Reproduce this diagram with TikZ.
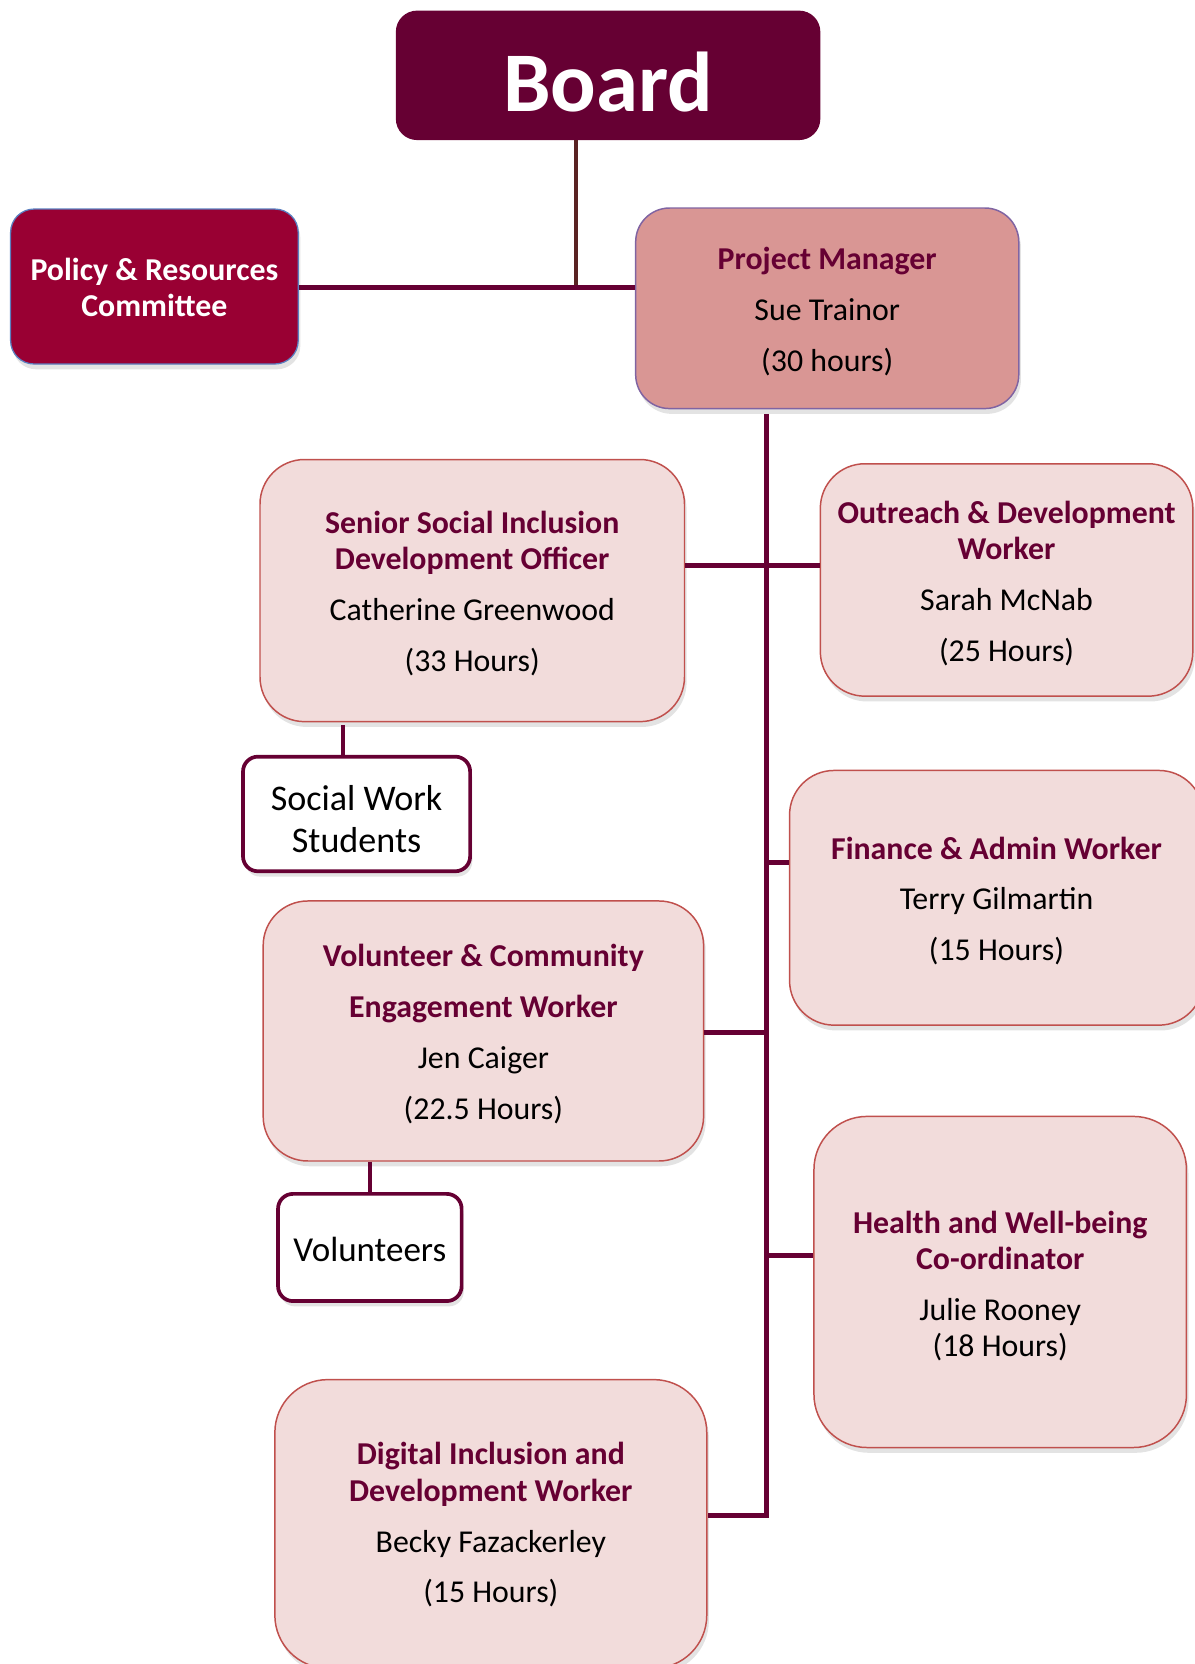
\documentclass[tikz,border=0pt]{standalone}
\usepackage{fontspec}
\setmainfont{Carlito}
\usetikzlibrary{shadows}
\definecolor{boardc}{HTML}{660033}
\definecolor{policyc}{HTML}{990033}
\definecolor{policyline}{HTML}{5B7FC0}
\definecolor{pmfill}{HTML}{D99694}
\definecolor{pmline}{HTML}{8064A2}
\definecolor{boxfill}{HTML}{F2DCDB}
\definecolor{boxline}{HTML}{C0504D}
\definecolor{titlec}{HTML}{660033}
\definecolor{conn}{HTML}{660033}
\definecolor{boardconn}{HTML}{5A2323}
\newcommand\ttl[1]{\textcolor{titlec}{\bfseries #1}}
\tikzset{
  shad/.style={drop shadow={opacity=0.22, shadow xshift=2pt, shadow yshift=-5pt}},
  staff/.style={draw=boxline, fill=boxfill, line width=1.4pt, rounded corners=42pt,
    inner sep=0pt, shad},
  helper/.style={draw=conn, fill=white, line width=3.5pt, rounded corners=14pt,
    inner sep=0pt, shad},
  txt/.style={align=center, inner sep=0pt, font=\fontsize{30}{34}\selectfont},
  htxt/.style={align=center, inner sep=0pt, font=\fontsize{34}{39}\selectfont},
  link/.style={draw=conn, line width=5pt},
}
\begin{document}
\begin{tikzpicture}[x=1pt,y=-1pt]
\useasboundingbox (0,0) rectangle (1126,1568);
% boxes
\node[fill=boardc, rounded corners=20pt, minimum width=400pt, minimum height=122pt, inner sep=0pt] (board) at (573,71) {};
\node[text=white, font=\fontsize{80}{90}\selectfont\bfseries, inner sep=0pt] (boardtxt) at ([yshift=-6pt]board.center) {Board};
\node[fill=policyc, draw=policyline, line width=1.2pt, rounded corners=22pt, minimum width=271pt,
  minimum height=146pt, inner sep=0pt, shad] (policy) at (145.5,270) {};
\node[txt, text=white, font=\fontsize{30}{34}\selectfont\bfseries] (policytxt) at ([yshift=-1pt]policy.center) {Policy \& Resources\\Committee};
\node[staff, fill=pmfill, draw=pmline, rounded corners=32pt, minimum width=361pt, minimum height=189pt]
  (pm) at (779.5,290.5) {};
\node[txt] (pmtxt) at ([yshift=-3pt]pm.center) {\ttl{Project Manager}\\[14pt]Sue Trainor\\[14pt](30 hours)};
\node[staff, minimum width=400pt, minimum height=247pt] (senior) at (445,556.5) {};
\node[txt] (seniortxt) at ([yshift=-3pt]senior.center)
  {\ttl{Senior Social Inclusion}\\\ttl{Development Officer}\\[14pt]Catherine Greenwood\\[14pt](33 Hours)};
\node[staff, minimum width=351pt, minimum height=219pt] (outreach) at (948.5,546.5) {};
\node[txt] (outreachtxt) at ([yshift=-3pt]outreach.center)
  {\ttl{Outreach \& Development}\\\ttl{Worker}\\[14pt]Sarah McNab\\[14pt](25 Hours)};
\node[helper, minimum width=214pt, minimum height=108pt] (sws) at (336,767) {};
\node[htxt] (swstxt) at ([yshift=-5pt]sws.center) {Social Work\\Students};
\node[staff, minimum width=390pt, minimum height=240pt] (finance) at (939,846) {};
\node[txt] (financetxt) at ([yshift=-3pt]finance.center)
  {\ttl{Finance \& Admin Worker}\\[14pt]Terry Gilmartin\\[14pt](15 Hours)};
\node[staff, minimum width=415pt, minimum height=245pt] (volunteer) at (455.5,971.5) {};
\node[txt] (volunteertxt) at ([yshift=-3pt]volunteer.center)
  {\ttl{Volunteer \& Community}\\[14pt]\ttl{Engagement Worker}\\[14pt]Jen Caiger\\[14pt](22.5 Hours)};
\node[helper, minimum width=173pt, minimum height=101pt] (vols) at (348.5,1175.5) {};
\node[htxt, font=\fontsize{33}{39}\selectfont] (volstxt) at ([yshift=-2pt]vols.center) {Volunteers};
\node[staff, rounded corners=50pt, minimum width=351pt, minimum height=312pt] (health) at (942.5,1208) {};
\node[txt] (healthtxt) at ([yshift=-4pt]health.center)
  {\ttl{Health and Well-being}\\\ttl{Co-ordinator}\\[14pt]Julie Rooney\\(18 Hours)};
\node[staff, rounded corners=50pt, minimum width=407pt, minimum height=272pt] (digital) at (462.5,1436) {};
\node[txt] (digitaltxt) at ([yshift=-1pt]digital.center)
  {\ttl{Digital Inclusion and}\\\ttl{Development Worker}\\[14pt]Becky Fazackerley\\[14pt](15 Hours)};
% junction coordinates
\coordinate (bj) at (543,271);
\coordinate (trunktop) at (722,390);
\coordinate (trunkbot) at (722,1428);
\coordinate (so) at (722,533);
\coordinate (fj) at (722,813);
\coordinate (vj) at (722,973);
\coordinate (hj) at (722,1183);
\coordinate (sj) at (323,683);
% connectors
\draw[draw=boardconn, line width=3.5pt] (board.south -| bj) -- (bj);
\draw[link] (policy.east |- bj) -- (pm.west |- bj);
\draw[link] (trunktop) -- (trunkbot) -- (trunkbot -| digital.east);
\draw[link] (senior.east |- so) -- (outreach.west |- so);
\draw[link] (fj) -- (finance.west |- fj);
\draw[link] (vj) -- (volunteer.east |- vj);
\draw[link] (hj) -- (health.west |- hj);
\draw[draw=conn, line width=4pt] (sj) -- (sws.north -| sj);
\draw[draw=conn, line width=4pt] (volunteer.south -| vols.north) -- (vols.north);
\end{tikzpicture}
\end{document}
